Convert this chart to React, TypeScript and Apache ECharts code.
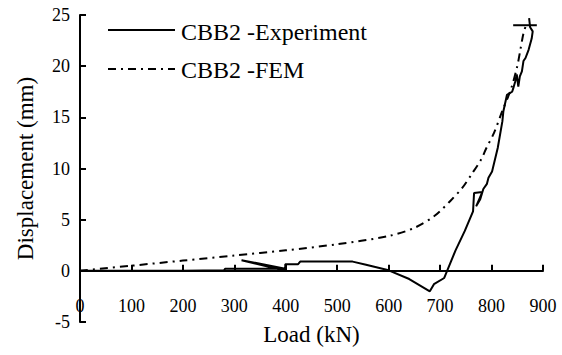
import React, { useEffect, useRef } from "react";
import * as echarts from "echarts";

const xTicks = [0, 100, 200, 300, 400, 500, 600, 700, 800, 900];
const yTicks = [-5, 0, 5, 10, 15, 20, 25];

const femLoad = [0, 100, 200, 300, 400, 500, 600, 650, 690, 723, 743, 762, 780, 790, 805, 820, 838, 850, 856, 862, 867];
const femDisp = [0, 0.5, 1.0, 1.5, 2.0, 2.6, 3.4, 4.2, 5.4, 7.0, 8.1, 9.5, 10.9, 12.0, 13.5, 15.5, 17.8, 20.0, 21.6, 23.2, 24.0];

const expLoad = [0, 100, 200, 280, 282, 399, 314, 399, 399, 424, 428, 530, 556, 600, 640, 680, 688, 708, 716, 730, 748, 764, 766, 782, 770, 778, 784, 791, 794, 801, 812, 821, 823, 830, 840, 842, 846, 849, 852, 855, 859, 862, 866, 872, 878, 880, 875, 873];
const expDisp = [0, 0, 0.02, 0.05, 0.2, 0.2, 1.04, 0, 0.65, 0.65, 0.9, 0.9, 0.6, 0.05, -0.8, -2.0, -1.3, -0.7, 0.3, 2.0, 3.9, 5.8, 7.6, 7.7, 6.3, 7.0, 8.0, 8.5, 9.1, 9.7, 12.0, 14.6, 15.6, 17.2, 17.5, 17.8, 18.5, 19.2, 18.0, 19.0, 19.5, 20.5, 20.8, 21.6, 22.7, 23.4, 23.8, 24.7];

const endLoad = [842, 888];
const endDisp = [24.0, 24.0];

const legendNames = ["CBB2 -Experiment", "CBB2 -FEM"];

const font = "Liberation Serif";
const dashDot = [8, 5, 2, 5];

export default function App() {
  const ref = useRef<HTMLDivElement>(null);
  useEffect(() => {
    document.body.style.margin = "0";
    if (!ref.current) return;
    const chart = echarts.init(ref.current, null, { renderer: "svg" });
    const zip = (a: number[], b: number[]) => a.map((v, i) => [v, b[i]]);
    const H = 355;
    const top = 15;
    const bottom = 33;
    const zeroOffset = ((H - top - bottom) * 5) / 30;
    const txt = (size: number) => ({ fontFamily: font, fontSize: size, color: "#000" });
    chart.setOption({
      animation: false,
      backgroundColor: "#fff",
      textStyle: txt(18),
      grid: { left: 80, right: 19, top, bottom },
      graphic: [
        { type: "line", shape: { x1: 108, y1: 30, x2: 175, y2: 30 }, style: { stroke: "#000", lineWidth: 2 } },
        { type: "text", x: 181, y: 32, style: { text: legendNames[0], fontFamily: font, fontSize: 24, fill: "#000", verticalAlign: "middle" } },
        { type: "line", shape: { x1: 108, y1: 69, x2: 175, y2: 69 }, style: { stroke: "#000", lineWidth: 2, lineDash: dashDot } },
        { type: "text", x: 181, y: 70, style: { text: legendNames[1], fontFamily: font, fontSize: 24, fill: "#000", verticalAlign: "middle" } },
      ],
      xAxis: {
        type: "value",
        min: 0,
        max: 900,
        interval: 100,
        offset: -zeroOffset,
        name: "Load (kN)",
        nameLocation: "middle",
        nameGap: 52,
        nameTextStyle: txt(23),
        axisLine: { onZero: false, lineStyle: { color: "#000", width: 2 } },
        axisTick: { inside: true, length: 6, lineStyle: { color: "#000", width: 2 } },
        axisLabel: { margin: 26, ...txt(18),
          formatter: (v: number) => (xTicks.includes(v) ? String(v) : "") },
        splitLine: { show: false },
      },
      yAxis: {
        type: "value",
        min: -5,
        max: 25,
        interval: 5,
        name: "Displacement (mm)",
        nameLocation: "middle",
        nameGap: 43,
        nameTextStyle: txt(23),
        axisLine: { show: true, lineStyle: { color: "#000", width: 2 } },
        axisTick: { show: true, inside: true, length: 6, lineStyle: { color: "#000", width: 2 } },
        axisLabel: { margin: 10, ...txt(18),
          formatter: (v: number) => (yTicks.includes(v) ? String(v) : "") },
        splitLine: { show: false },
      },
      series: [
        {
          name: legendNames[0],
          type: "line",
          symbol: "none",
          data: zip(expLoad, expDisp),
          lineStyle: { color: "#000", width: 2 },
        },
        {
          name: legendNames[1],
          type: "line",
          symbol: "none",
          smooth: 0.3,
          data: zip(femLoad, femDisp),
          lineStyle: { color: "#000", width: 2, type: dashDot },
        },
        {
          name: "end",
          type: "line",
          symbol: "none",
          data: zip(endLoad, endDisp),
          lineStyle: { color: "#000", width: 2 },
        },
      ],
    });
    return () => chart.dispose();
  }, []);
  return <div ref={ref} style={{ width: 562, height: 355 }} />;
}
